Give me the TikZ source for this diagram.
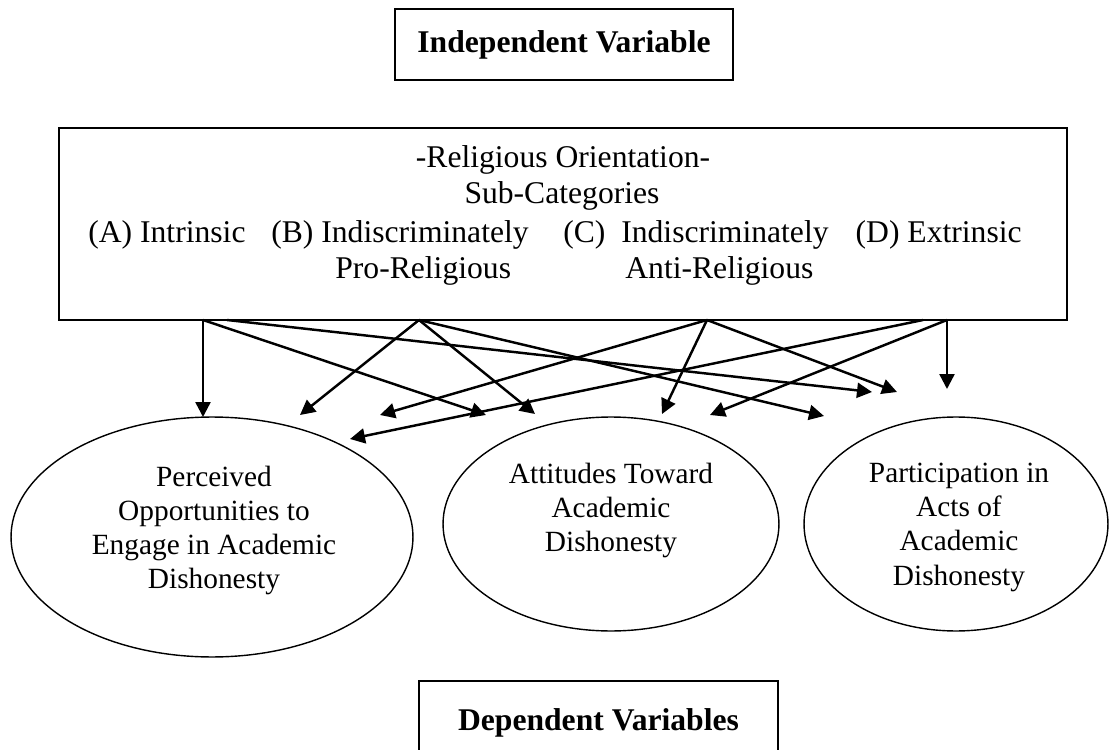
\documentclass[tikz,border=0pt]{standalone}
\usepackage{fontspec}
\setmainfont{Liberation Serif}
\usetikzlibrary{arrows.meta, shapes.geometric}

\begin{document}
\begin{tikzpicture}[
		x=0.02cm, y=-0.02cm, % one unit per pixel, y grows downwards
		>={Triangle[length=0.3cm, width=0.3cm]},
		titlebox/.style={draw, line width=0.9pt, inner sep=0pt, font=\fontsize{18}{21}\selectfont\bfseries},
		catbox/.style={draw, line width=0.9pt, inner sep=0pt},
		cattext/.style={inner sep=0pt, font=\fontsize{18}{21}\selectfont},
		outcome/.style={draw, ellipse, line width=0.8pt, inner sep=0pt},
		outtext/.style={inner sep=0pt, align=center, anchor=north, font=\fontsize{16.7}{19.4}\selectfont},
		link/.style={->, line width=1.4pt}
		]
		
		% --- 1. Page frame ---
		\useasboundingbox (0,0) rectangle (1110,750);
		\clip (0,0) rectangle (1110,750);
		
		% --- 2. Title boxes ---
		\node[titlebox, minimum width=6.76cm, minimum height=1.42cm] (ivbox) at (564,44.5) {Independent Variable};
		\node[titlebox, minimum width=7.18cm, minimum height=1.68cm] (dvbox) at (598.5,723) {Dependent Variables};
		
		% --- 3. Religious orientation box ---
		\node[catbox, minimum width=20.16cm, minimum height=3.84cm] (robox) at (563,224) {};
		\node[cattext, anchor=base] (rotitle) at (563,168) {-Religious Orientation-};
		\node[cattext, anchor=base] (subcat) at (562,204) {Sub-Categories};
		\node[cattext, anchor=base west] (catA) at (88,242) {(A) Intrinsic};
		\node[cattext, anchor=base east] (catB) at (529,242) {(B) Indiscriminately};
		\node[cattext, anchor=base west] (catBb) at (335,278) {Pro-Religious};
		\node[cattext, anchor=base west] (catC) at (563,242) {(C)\ \ Indiscriminately};
		\node[cattext, anchor=base west] (catCb) at (625,278) {Anti-Religious};
		\node[cattext, anchor=base east] (catD) at (1022,242) {(D) Extrinsic};
		
		% --- 4. Outcome ellipses ---
		\node[outcome, minimum width=8.04cm, minimum height=4.8cm] (perc) at (212,537) {};
		\node[outcome, minimum width=6.72cm, minimum height=4.28cm] (att) at (611,524) {};
		\node[outcome, minimum width=6.08cm, minimum height=4.28cm] (part) at (956,524) {};
		
		\node[outtext] (percText) at (214,466) {Perceived\\Opportunities to\\Engage in Academic\\Dishonesty};
		\node[outtext] (attText) at (611,463) {Attitudes Toward\\Academic\\Dishonesty};
		\node[outtext] (partText) at (959,463) {Participation in\\Acts of\\Academic\\Dishonesty};
		
		% --- 5. Arrow ends ---
		\coordinate (srcA) at (203,320);
		\coordinate (srcAr) at (227,320);
		\coordinate (srcB) at (419,320);
		\coordinate (srcC) at (707,320);
		\coordinate (srcD) at (947,320);
		\coordinate (srcDl) at (923,320);
		
		\coordinate (tipA1) at (203,417);
		\coordinate (tipA2) at (486,415);
		\coordinate (tipA3) at (872,392);
		\coordinate (tipB1) at (300,415);
		\coordinate (tipB2) at (535,414);
		\coordinate (tipB3) at (824,416);
		\coordinate (tipC1) at (380,415);
		\coordinate (tipC2) at (662,414);
		\coordinate (tipC3) at (897,392);
		\coordinate (tipD1) at (350,439);
		\coordinate (tipD2) at (710,415);
		\coordinate (tipD3) at (947,389);
		
		% --- 6. Arrows from each sub-category ---
		% (A) Intrinsic
		\draw[link] (srcA) -- (tipA1);
		\draw[link] (srcA) -- (tipA2);
		\draw[link] (srcAr) -- (tipA3);
		% (B) Pro-Religious
		\draw[link] (srcB) -- (tipB1);
		\draw[link] (srcB) -- (tipB2);
		\draw[link] (srcB) -- (tipB3);
		% (C) Anti-Religious
		\draw[link] (srcC) -- (tipC1);
		\draw[link] (srcC) -- (tipC2);
		\draw[link] (srcC) -- (tipC3);
		% (D) Extrinsic
		\draw[link] (srcDl) -- (tipD1);
		\draw[link] (srcD) -- (tipD2);
		\draw[link] (srcD) -- (tipD3);
		
	\end{tikzpicture}
\end{document}
